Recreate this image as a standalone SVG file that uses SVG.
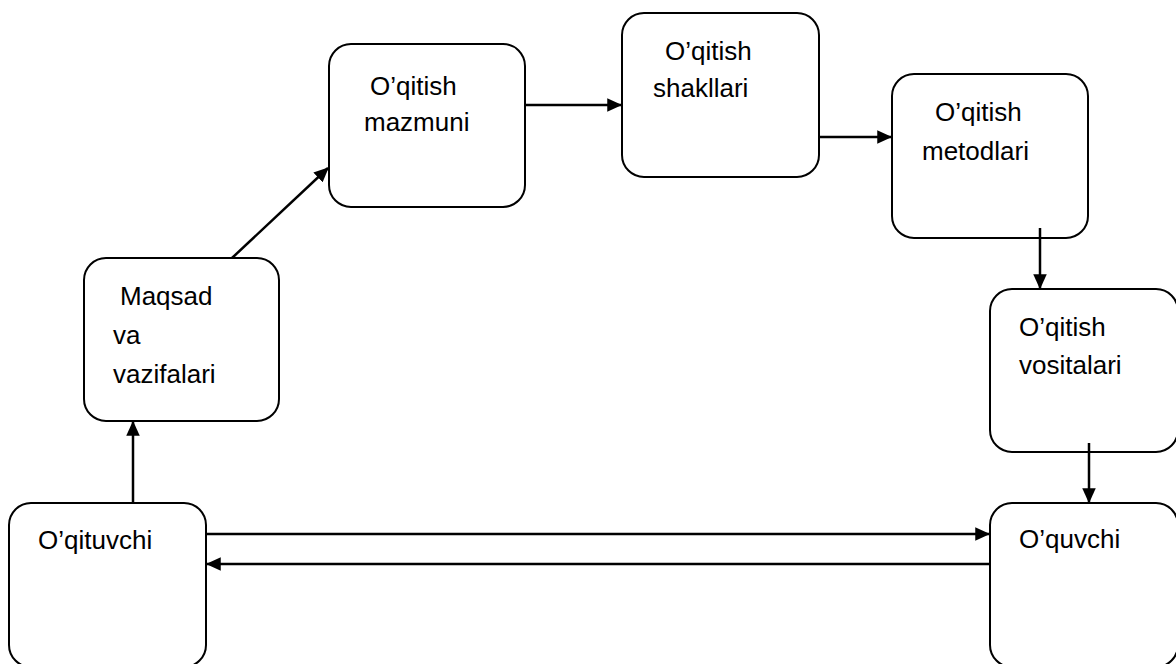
<svg xmlns="http://www.w3.org/2000/svg" width="1176" height="664" viewBox="0 0 1176 664">
<style>
.box{fill:#fff;stroke:#000;stroke-width:2}
.lbl{font-family:"Liberation Sans",Arial,sans-serif;font-size:26px;fill:#000}
.con{stroke:#000;stroke-width:2.5;fill:none;marker-end:url(#ah)}
</style>
<defs>
<marker id="ah" markerWidth="6" markerHeight="5.4" refX="5.5" refY="2.7" orient="auto" markerUnits="strokeWidth" viewBox="0 0 6 5.4">
<path d="M0,0 L6,2.7 L0,5.4 Z" fill="#000"/>
</marker>
</defs>
<rect width="1176" height="664" fill="#fff"/>
<g id="maqsad">
<rect class="box" x="84" y="258" width="195" height="163" rx="22"/>
<text class="lbl" x="120" y="305">Maqsad</text>
<text class="lbl" x="113" y="344">va</text>
<text class="lbl" x="113" y="383">vazifalari</text>
</g>
<g id="mazmuni">
<rect class="box" x="329" y="44" width="196" height="163" rx="22"/>
<text class="lbl" x="370" y="95">O’qitish</text>
<text class="lbl" x="364" y="131">mazmuni</text>
</g>
<g id="shakllari">
<rect class="box" x="622" y="13" width="197" height="164" rx="22"/>
<text class="lbl" x="665" y="60">O’qitish</text>
<text class="lbl" x="653" y="97">shakllari</text>
</g>
<g id="metodlari">
<rect class="box" x="892" y="74" width="196" height="164" rx="22"/>
<text class="lbl" x="935" y="121">O’qitish</text>
<text class="lbl" x="922" y="160">metodlari</text>
</g>
<g id="vositalari">
<rect class="box" x="990" y="289" width="188" height="163" rx="22"/>
<text class="lbl" x="1019" y="336">O’qitish</text>
<text class="lbl" x="1019" y="374">vositalari</text>
</g>
<g id="oquvchi">
<rect class="box" x="990" y="503" width="188" height="164" rx="22"/>
<text class="lbl" x="1019" y="548">O’quvchi</text>
</g>
<g id="oqituvchi">
<rect class="box" x="9" y="503" width="197" height="164" rx="22"/>
<text class="lbl" x="38" y="549">O’qituvchi</text>
</g>
<g id="connectors">
<line class="con" x1="133" y1="503" x2="133" y2="422"/>
<line class="con" x1="232" y1="258" x2="328" y2="168"/>
<line class="con" x1="525" y1="105" x2="621" y2="105"/>
<line class="con" x1="819" y1="137" x2="891" y2="137"/>
<line class="con" x1="1040" y1="228" x2="1040" y2="288"/>
<line class="con" x1="1089" y1="443" x2="1089" y2="502"/>
<line class="con" x1="206" y1="534" x2="989" y2="534"/>
<line class="con" x1="990" y1="564" x2="207" y2="564"/>
</g>
</svg>
